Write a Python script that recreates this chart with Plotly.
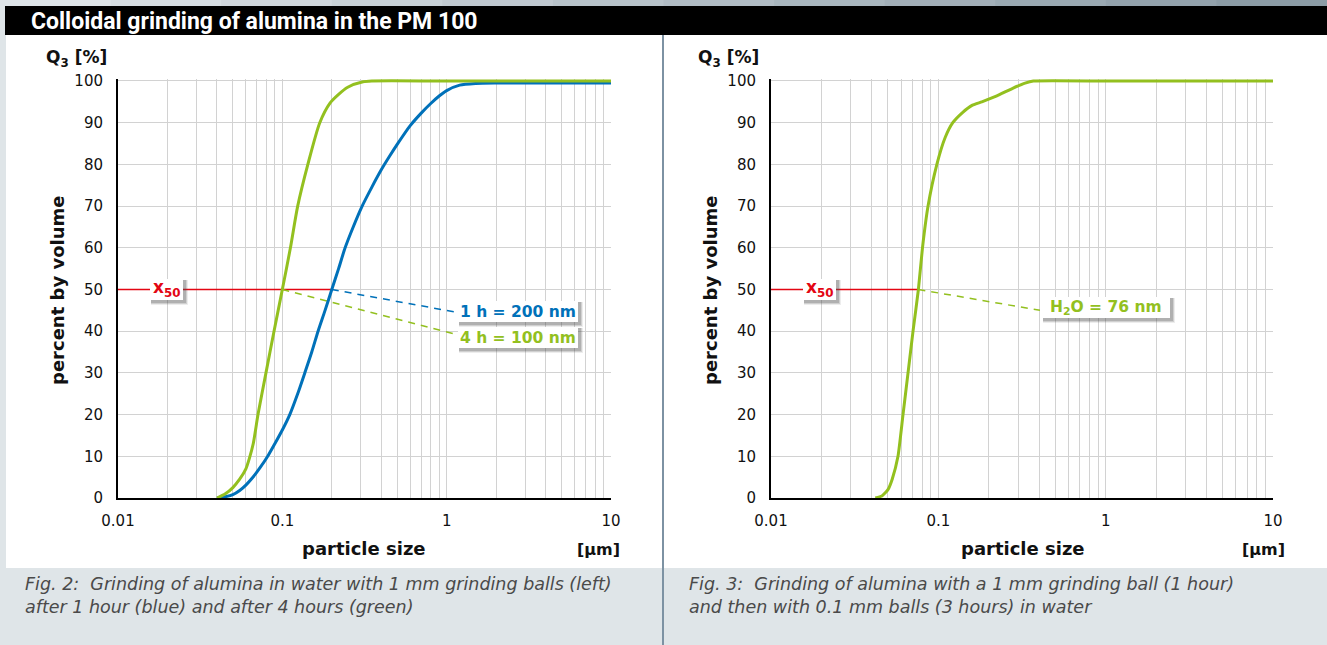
import plotly.graph_objects as go

# ---------------- data ----------------
x_1h = [0.04, 0.045, 0.05, 0.055, 0.06, 0.066, 0.073, 0.082, 0.09, 0.1, 0.111, 0.124, 0.137, 0.151, 0.165,
        0.182, 0.2, 0.22, 0.241, 0.27, 0.306, 0.35, 0.4, 0.45, 0.5, 0.6, 0.7, 0.8, 0.9, 1.0, 1.2, 1.5,
        2.0, 4.0, 10.0]
q_1h = [0, 0.3, 0.8, 1.8, 3.1, 4.9, 7.2, 10.2, 13, 16.3, 20, 25, 30, 35, 40,
        45, 50, 55, 60, 65, 70, 74.5, 78.7, 82, 84.8, 89.3, 92.3, 94.6, 96.4, 97.7, 99, 99.4,
        99.5, 99.5, 99.5]

x_4h = [0.04, 0.045, 0.05, 0.055, 0.06, 0.063, 0.0665, 0.0711, 0.0795, 0.089, 0.1, 0.112, 0.124, 0.143,
        0.169, 0.195, 0.22, 0.25, 0.31, 0.35, 1.0, 10.0]
q_4h = [0, 1, 2.5, 4.5, 7, 9.5, 13, 20, 30, 40, 50, 60, 70, 80,
        90, 94.7, 96.8, 98.5, 99.8, 100, 100, 100]

x_h2o = [0.042, 0.046, 0.05, 0.053, 0.0574, 0.0615, 0.0659, 0.0706, 0.076, 0.0804, 0.0868, 0.098,
         0.11, 0.122, 0.14, 0.16, 0.182, 0.22, 0.28, 0.33, 0.37, 1.0, 3.0, 10.0]
q_h2o = [0, 0.5, 2, 4.5, 10, 20, 30, 40, 50, 60, 70, 80,
         86.5, 90, 92.5, 94.2, 95, 96.3, 98.3, 99.5, 100, 100, 100, 100]

x50_1h, x50_4h, x50_h2o = 0.2, 0.1, 0.076

x_tickvals = [0.01, 0.1, 1, 10]
x_ticktext = ["0.01", "0.1", "1", "10"]
y_tickvals = [0, 10, 20, 30, 40, 50, 60, 70, 80, 90, 100]

# ---------------- style ----------------
W, H = 1327, 645
GREEN = "#93c01f"
BLUE = "#0071b9"
RED = "#e30613"
GRID = "#d2d2d2"
FONT = "DejaVu Sans, Verdana, sans-serif"


def px(x):
    return x / W


def py(y):
    return 1 - y / H


fig = go.Figure()

# left chart
fig.add_trace(go.Scatter(x=[0.01, x50_1h], y=[50, 50], mode="lines", line=dict(color=RED, width=1.5),
                         xaxis="x", yaxis="y", hoverinfo="skip"))
fig.add_trace(go.Scatter(x=[x50_1h, 1.125], y=[50, 44.6], mode="lines",
                         line=dict(color=BLUE, width=1.5, dash="7px,6px"), xaxis="x", yaxis="y"))
fig.add_trace(go.Scatter(x=[x50_4h, 1.125], y=[50, 39.3], mode="lines",
                         line=dict(color=GREEN, width=1.5, dash="7px,6px"), xaxis="x", yaxis="y"))
fig.add_trace(go.Scatter(x=x_1h, y=q_1h, mode="lines", line=dict(color=BLUE, width=3, shape="spline", smoothing=0.7),
                         xaxis="x", yaxis="y"))
fig.add_trace(go.Scatter(x=x_4h, y=q_4h, mode="lines", line=dict(color=GREEN, width=3, shape="spline", smoothing=0.7),
                         xaxis="x", yaxis="y"))

# right chart
fig.add_trace(go.Scatter(x=[0.01, x50_h2o], y=[50, 50], mode="lines", line=dict(color=RED, width=1.5),
                         xaxis="x2", yaxis="y2"))
fig.add_trace(go.Scatter(x=[x50_h2o, 0.405], y=[50, 45], mode="lines",
                         line=dict(color=GREEN, width=1.5, dash="7px,6px"), xaxis="x2", yaxis="y2"))
fig.add_trace(go.Scatter(x=x_h2o, y=q_h2o, mode="lines", line=dict(color=GREEN, width=3, shape="spline", smoothing=0.5),
                         xaxis="x2", yaxis="y2"))

minor_vals = [k * 10 ** d for d in (-2, -1, 0) for k in range(2, 10)]


def xaxis_cfg(x0, x1, anchor):
    return dict(type="log", range=[-2, 1], domain=[px(x0), px(x1)], anchor=anchor,
                tickmode="array", tickvals=x_tickvals, ticktext=x_ticktext,
                showgrid=True, gridcolor=GRID, gridwidth=1,
                minor=dict(tickmode="array", tickvals=minor_vals, showgrid=True, gridcolor=GRID, gridwidth=1, ticks=""),
                showline=True, linecolor="#000", linewidth=2, ticks="", zeroline=False,
                tickfont=dict(family=FONT, size=15, color="#111"), ticklabelstandoff=8)


def yaxis_cfg(anchor):
    return dict(range=[0, 100.5], domain=[py(498), py(498 - 100.5 * 4.17)], anchor=anchor,
                tickmode="array", tickvals=y_tickvals, showgrid=True, gridcolor=GRID, gridwidth=1,
                showline=True, linecolor="#000", linewidth=2, ticks="", zeroline=False,
                tickfont=dict(family=FONT, size=15, color="#111"), ticklabelstandoff=10)


shapes = []
# background panels
shapes.append(dict(type="rect", xref="paper", yref="paper", x0=px(6), x1=1, y0=py(568), y1=py(35),
                   fillcolor="white", line_width=0, layer="below"))
# top gradient strip
n = 12
for i in range(n):
    t = i / (n - 1)
    c1 = (222, 228, 232)
    c2 = (140, 156, 166)
    col = "rgb(%d,%d,%d)" % tuple(int(a + (b - a) * t) for a, b in zip(c1, c2))
    shapes.append(dict(type="rect", xref="paper", yref="paper", x0=i / n, x1=(i + 1) / n + 0.001,
                       y0=py(6), y1=1, fillcolor=col, line_width=0, layer="below"))
shapes.append(dict(type="rect", xref="paper", yref="paper", x0=px(5), x1=1, y0=py(35), y1=py(6),
                   fillcolor="black", line_width=0, layer="below"))
shapes.append(dict(type="line", xref="paper", yref="paper", x0=px(663), x1=px(663), y0=0, y1=py(35),
                   line=dict(color="#7d92a3", width=2), layer="below"))


def box(x0, y0, x1, y1):
    for d, a in ((5, 0.10), (4, 0.18), (3, 0.25)):
        shapes.append(dict(type="rect", xref="paper", yref="paper", x0=px(x0 + 1), x1=px(x1 + d),
                           y0=py(y1 + d), y1=py(y0 + 1), fillcolor="rgba(80,80,80,%.2f)" % a,
                           line_width=0, layer="above"))
    shapes.append(dict(type="rect", xref="paper", yref="paper", x0=px(x0), x1=px(x1),
                       y0=py(y1), y1=py(y0), fillcolor="white", line_width=0, layer="above"))


box(150, 279, 183, 300)
box(803, 279, 836, 300)
box(458, 301, 578, 322)
box(458, 327, 578, 348)
box(1042, 297, 1170, 318)

annotations = []


def ann(text, x, y, size=16, color="#111", xanchor="center", yanchor="middle", angle=0, family=FONT):
    annotations.append(dict(text=text, x=px(x), y=py(y), xref="paper", yref="paper", showarrow=False,
                            xanchor=xanchor, yanchor=yanchor, textangle=angle,
                            font=dict(family=family, size=size, color=color)))


ann("<b>Colloidal grinding of alumina in the PM 100</b>", 29, 21, size=23, color="white", xanchor="left",
    family="Roboto, DejaVu Sans Condensed, sans-serif")

for off_x, title_x, unit_x, cap_x, cap in [
    (0, 364, 598, 23, ["Fig. 2:\u00a0 Grinding of alumina in water with 1 mm grinding balls (left)",
                       "after 1 hour (blue) and after 4 hours (green)"]),
    (653, 1023, 1263, 687, ["Fig. 3:\u00a0 Grinding of alumina with a 1 mm grinding ball (1 hour)",
                            "and then with 0.1 mm balls (3 hours) in water"]),
]:
    ann("<b>Q<sub>3</sub> [%]</b>", 76 + off_x, 59, size=17)
    ann("<b>percent by volume</b>", 57 + off_x, 291, size=18, angle=-90)
    ann("<b>particle size</b>", title_x, 548, size=18)
    ann("<b>[µm]</b>", unit_x, 549, size=16)
    ann("<i>" + cap[0] + "</i>", cap_x, 584, size=17.5, color="#4a4a4a", xanchor="left")
    ann("<i>" + cap[1] + "</i>", cap_x, 607, size=17.5, color="#4a4a4a", xanchor="left")

ann("<b>x<sub>50</sub></b>", 166.5, 289, size=17, color=RED)
ann("<b>x<sub>50</sub></b>", 819.5, 289, size=17, color=RED)
ann("<b>1 h = 200 nm</b>", 518, 311.5, size=15.5, color=BLUE)
ann("<b>4 h = 100 nm</b>", 518, 337.5, size=15.5, color=GREEN)
ann("<b>H<sub>2</sub>O = 76 nm</b>", 1106, 307.5, size=15.5, color=GREEN)

fig.update_layout(
    width=W, height=H, margin=dict(l=0, r=0, t=0, b=0),
    paper_bgcolor="#dfe5e8", plot_bgcolor="rgba(0,0,0,0)",
    showlegend=False, template="none",
    xaxis=xaxis_cfg(118, 611, "y"), yaxis=yaxis_cfg("x"),
    xaxis2=xaxis_cfg(771, 1273, "y2"), yaxis2=yaxis_cfg("x2"),
    shapes=shapes, annotations=annotations,
)

fig.write_html("out.html", config={"displayModeBar": False},
               post_script="document.body.style.margin='0';document.body.style.overflow='hidden';")
